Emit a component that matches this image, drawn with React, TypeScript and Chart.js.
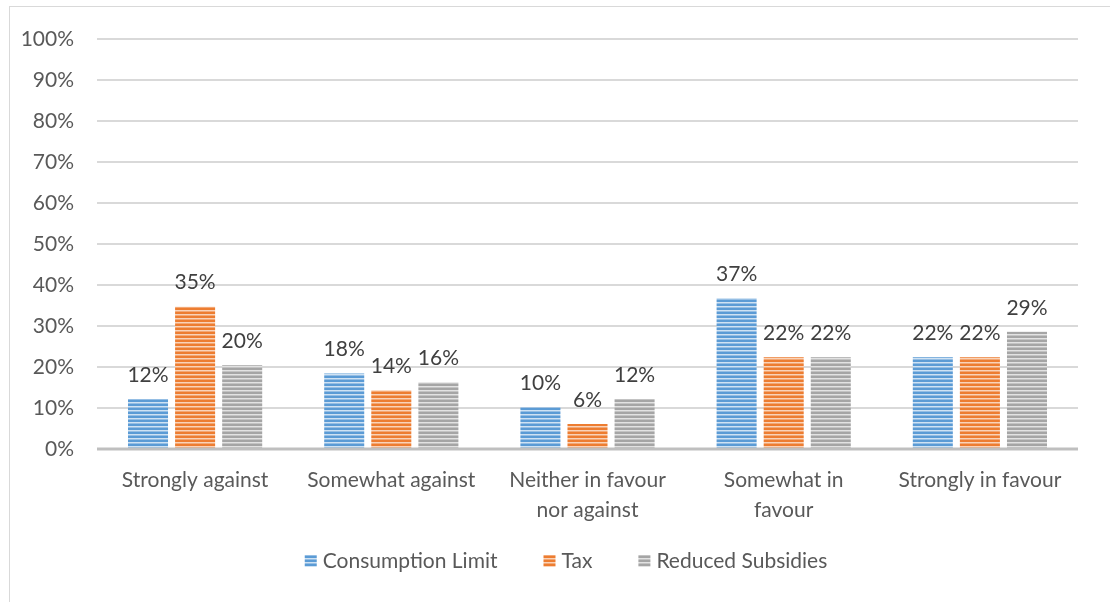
import React, { useEffect, useRef } from "react";
import { Chart, registerables } from "chart.js";

Chart.register(...registerables);

const categories: (string | string[])[] = [
  "Strongly against",
  "Somewhat against",
  ["Neither in favour", "nor against"],
  ["Somewhat in", "favour"],
  "Strongly in favour",
];
const consumptionLimit = [12.2, 18.4, 10.2, 36.8, 22.4];
const tax = [34.7, 14.3, 6.1, 22.4, 22.4];
const reducedSubsidies = [20.4, 16.3, 12.2, 22.4, 28.6];
const seriesNames = ["Consumption Limit", "Tax", "Reduced Subsidies"];
const yTicks = [0, 10, 20, 30, 40, 50, 60, 70, 80, 90, 100];

const FONT = "Lato, 'Noto Sans', sans-serif";
const FS = 21;
const TEXT = "#595959";

function stripePattern(dark: string, light: string): CanvasPattern | string {
  const c = document.createElement("canvas");
  c.width = 8;
  c.height = 4;
  const g = c.getContext("2d");
  if (!g) return dark;
  g.fillStyle = dark;
  g.fillRect(0, 0, 8, 4);
  g.fillStyle = light;
  g.fillRect(0, 2, 8, 1);
  g.globalAlpha = 0.5;
  g.fillRect(0, 3, 8, 1);
  const p = g.createPattern(c, "repeat");
  return p || dark;
}

const labelPlugin = {
  id: "barLabels",
  afterDatasetsDraw(chart: any) {
    const ctx = chart.ctx;
    ctx.save();
    ctx.font = `${FS}px ${FONT}`;
    ctx.fillStyle = "#404040";
    ctx.textAlign = "center";
    ctx.textBaseline = "middle";
    chart.data.datasets.forEach((ds: any, di: number) => {
      const meta = chart.getDatasetMeta(di);
      meta.data.forEach((bar: any, i: number) => {
        const v = ds.data[i];
        ctx.fillText(`${Math.round(v)}%`, bar.x, bar.y - 24);
      });
    });
    ctx.restore();
  },
};

const axisLinePlugin = {
  id: "axisLine",
  afterDatasetsDraw(chart: any) {
    const { ctx, chartArea } = chart;
    const y = chart.scales.y.getPixelForValue(0);
    ctx.save();
    ctx.strokeStyle = "#bfbfbf";
    ctx.lineWidth = 3;
    ctx.beginPath();
    ctx.moveTo(chartArea.left, y);
    ctx.lineTo(chartArea.right, y);
    ctx.stroke();
    ctx.restore();
  },
};

const legendPlugin = {
  id: "customLegend",
  afterDraw(chart: any) {
    const ctx = chart.ctx;
    const box = 12;
    const gapText = 6;
    const gapItem = 46;
    ctx.save();
    ctx.font = `${FS}px ${FONT}`;
    const items = chart.data.datasets.map((ds: any) => ({
      label: ds.label,
      fill: ds.backgroundColor,
      w: ctx.measureText(ds.label).width,
    }));
    const total =
      items.reduce((a: number, it: any) => a + box + gapText + it.w, 0) + gapItem * (items.length - 1);
    let x = chart.width / 2 + 11 - total / 2;
    const y = 561;
    ctx.textAlign = "left";
    ctx.textBaseline = "middle";
    items.forEach((it: any) => {
      ctx.fillStyle = it.fill;
      ctx.fillRect(x, y - box / 2, box, box);
      x += box + gapText;
      ctx.fillStyle = TEXT;
      ctx.fillText(it.label, x, y);
      x += it.w + gapItem;
    });
    ctx.restore();
  },
};

export default function App() {
  const ref = useRef<HTMLCanvasElement>(null);
  useEffect(() => {
    if (!ref.current) return;
    const blue = stripePattern("#5B9BD5", "#cfe2f3");
    const orange = stripePattern("#ED7D31", "#f9d3b9");
    const gray = stripePattern("#A5A5A5", "#e2e2e2");
    const chart = new Chart(ref.current, {
      type: "bar",
      data: {
        labels: categories,
        datasets: [
          { label: seriesNames[0], data: consumptionLimit, backgroundColor: blue as any },
          { label: seriesNames[1], data: tax, backgroundColor: orange as any },
          { label: seriesNames[2], data: reducedSubsidies, backgroundColor: gray as any },
        ],
      },
      options: {
        animation: false,
        responsive: false,
        maintainAspectRatio: false,
        layout: { padding: { left: 0, right: 32, top: 39, bottom: 78 } },
        datasets: {
          bar: { categoryPercentage: 0.72, barPercentage: 0.85 },
        },
        plugins: {
          legend: { display: false },
          tooltip: { enabled: false },
        },
        scales: {
          x: {
            grid: { display: false, drawTicks: false },
            border: { display: false },
            ticks: {
              font: { family: FONT, size: FS, lineHeight: 1.4 },
              color: TEXT,
              padding: 17,
              maxRotation: 0,
              autoSkip: false,
            },
            afterFit: (s: any) => {
              s.height = 75;
            },
          },
          y: {
            min: 0,
            max: 100,
            afterBuildTicks: (s: any) => {
              s.ticks = yTicks.map((v) => ({ value: v }));
            },
            grid: { color: "#d9d9d9", lineWidth: 2, drawTicks: false },
            border: { display: false },
            ticks: {
              font: { family: FONT, size: FS },
              color: TEXT,
              padding: 23,
              callback: (v: any) => `${v}%`,
            },
            afterFit: (s: any) => {
              s.width = 97;
            },
          },
        },
      },
      plugins: [axisLinePlugin, labelPlugin, legendPlugin],
    });
    return () => chart.destroy();
  }, []);
  return (
    <div style={{ position: "fixed", left: 0, top: 0, width: 1110, height: 602, background: "#fff", overflow: "hidden" }}>
      <div
        style={{
          position: "absolute",
          left: 9,
          top: 6,
          width: 1200,
          height: 700,
          border: "1px solid #d9d9d9",
          boxSizing: "border-box",
        }}
      />
      <canvas ref={ref} width={1110} height={602} style={{ position: "absolute", left: 0, top: 0 }} />
    </div>
  );
}
